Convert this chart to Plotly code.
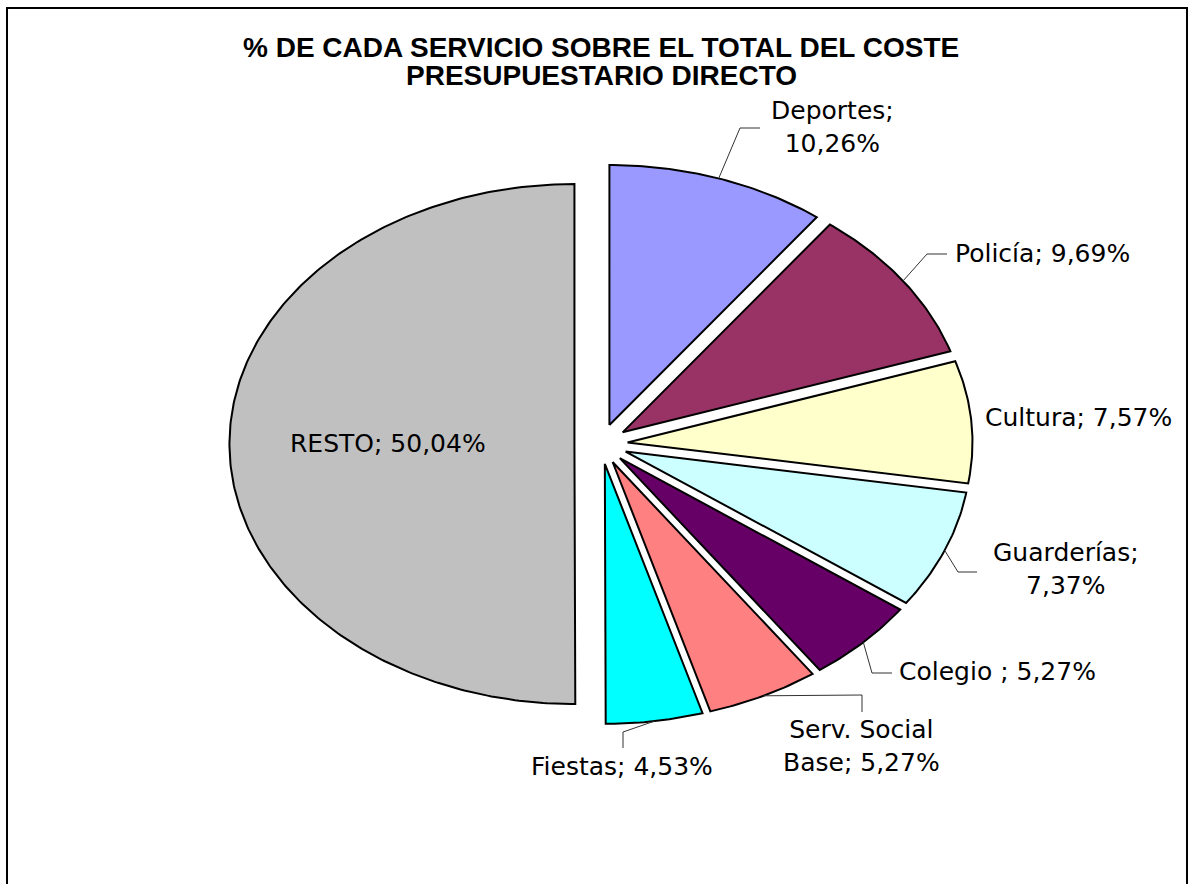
import numpy as np
import plotly.graph_objects as go

# ---- data ----
categories = ["Deportes", "Policía", "Cultura", "Guarderías", "Colegio ",
              "Serv. Social Base", "Fiestas", "RESTO"]
values = [10.26, 9.69, 7.57, 7.37, 5.27, 5.27, 4.53, 50.04]
colors = ["#9999FF", "#993366", "#FFFFCC", "#CCFFFF", "#660066",
          "#FF8080", "#00FFFF", "#C0C0C0"]
title_lines = ["% DE CADA SERVICIO SOBRE EL TOTAL DEL COSTE",
               "PRESUPUESTARIO DIRECTO"]

# ---- layout / geometry (pixel space of the page) ----
W, H = 1188, 884
CX, CY, RX, RY, EXPLODE = 601, 444, 345, 260, 0.077

# label placement: (x, y, xanchor)
label_pos = [(832, 127, "center"), (953, 253, "left"), (983, 417, "left"),
             (1066, 569, "center"), (897, 671, "left"), (861, 746, "center"),
             (622, 766, "center"), (388, 443, "center")]
# where to wrap the label text
label_break = {0: "; ", 3: "; ", 5: "Social "}
# leader line bend / end points (start is computed on the slice arc)
leaders = {0: [(740, 128), (760, 128)], 1: [(927, 254), (947, 254)],
           3: [(958, 572), (977, 572)], 4: [(872, 673), (892, 673)],
           5: [(862, 695), (862, 712)], 6: [(623, 732), (623, 748)]}

fig = go.Figure()

total = sum(values)
cum = 0.0
for i, (cat, v, col) in enumerate(zip(categories, values, colors)):
    a0 = cum / total * 2 * np.pi
    a1 = (cum + v) / total * 2 * np.pi
    am = (a0 + a1) / 2
    cum += v
    ox = CX + EXPLODE * RX * np.sin(am)
    oy = CY - EXPLODE * RY * np.cos(am)
    n = max(3, int(np.degrees(a1 - a0) * 1.5))
    th = np.linspace(a0, a1, n)
    xs = np.concatenate([[ox], ox + RX * np.sin(th), [ox]])
    ys = np.concatenate([[oy], oy - RY * np.cos(th), [oy]])
    fig.add_trace(go.Scatter(x=xs, y=ys, mode="lines", fill="toself",
                             fillcolor=col, line=dict(color="black", width=2),
                             name=cat, hoverinfo="name", showlegend=False))
    # label
    pct = f"{v:.2f}".replace(".", ",") + "%"
    text = f"{cat}; {pct}"
    if i in label_break:
        b = label_break[i]
        text = text.replace(b, b.rstrip() + "<br>", 1)
    lx, ly, anc = label_pos[i]
    fig.add_annotation(x=lx, y=ly, text=text, showarrow=False,
                       xanchor=anc, yanchor="middle", align="center",
                       font=dict(family="DejaVu Sans", size=25, color="black"))
    # leader line
    if i in leaders:
        sx = ox + RX * np.sin(am)
        sy = oy - RY * np.cos(am)
        pts = [(sx, sy)] + leaders[i]
        fig.add_trace(go.Scatter(x=[p[0] for p in pts], y=[p[1] for p in pts],
                                 mode="lines", line=dict(color="#333333", width=1),
                                 hoverinfo="skip", showlegend=False))

# title
for ty, tl in zip([47, 75], title_lines):
    fig.add_annotation(x=601, y=ty, text=f"<b>{tl}</b>", showarrow=False,
                       xanchor="center", yanchor="middle",
                       font=dict(family="Liberation Sans", size=28, color="black"))

# chart frame
fig.add_shape(type="rect", x0=7, y0=8, x1=1187, y1=H + 20,
              line=dict(color="black", width=2), layer="above")

fig.update_layout(
    width=W, height=H, margin=dict(l=0, r=0, t=0, b=0),
    paper_bgcolor="white", plot_bgcolor="white",
    xaxis=dict(range=[0, W], visible=False, fixedrange=True),
    yaxis=dict(range=[H, 0], visible=False, fixedrange=True),
)
fig.write_html("out.html",
               config={"displayModeBar": False},
               post_script="document.body.style.margin='0';document.body.style.overflow='hidden';")
